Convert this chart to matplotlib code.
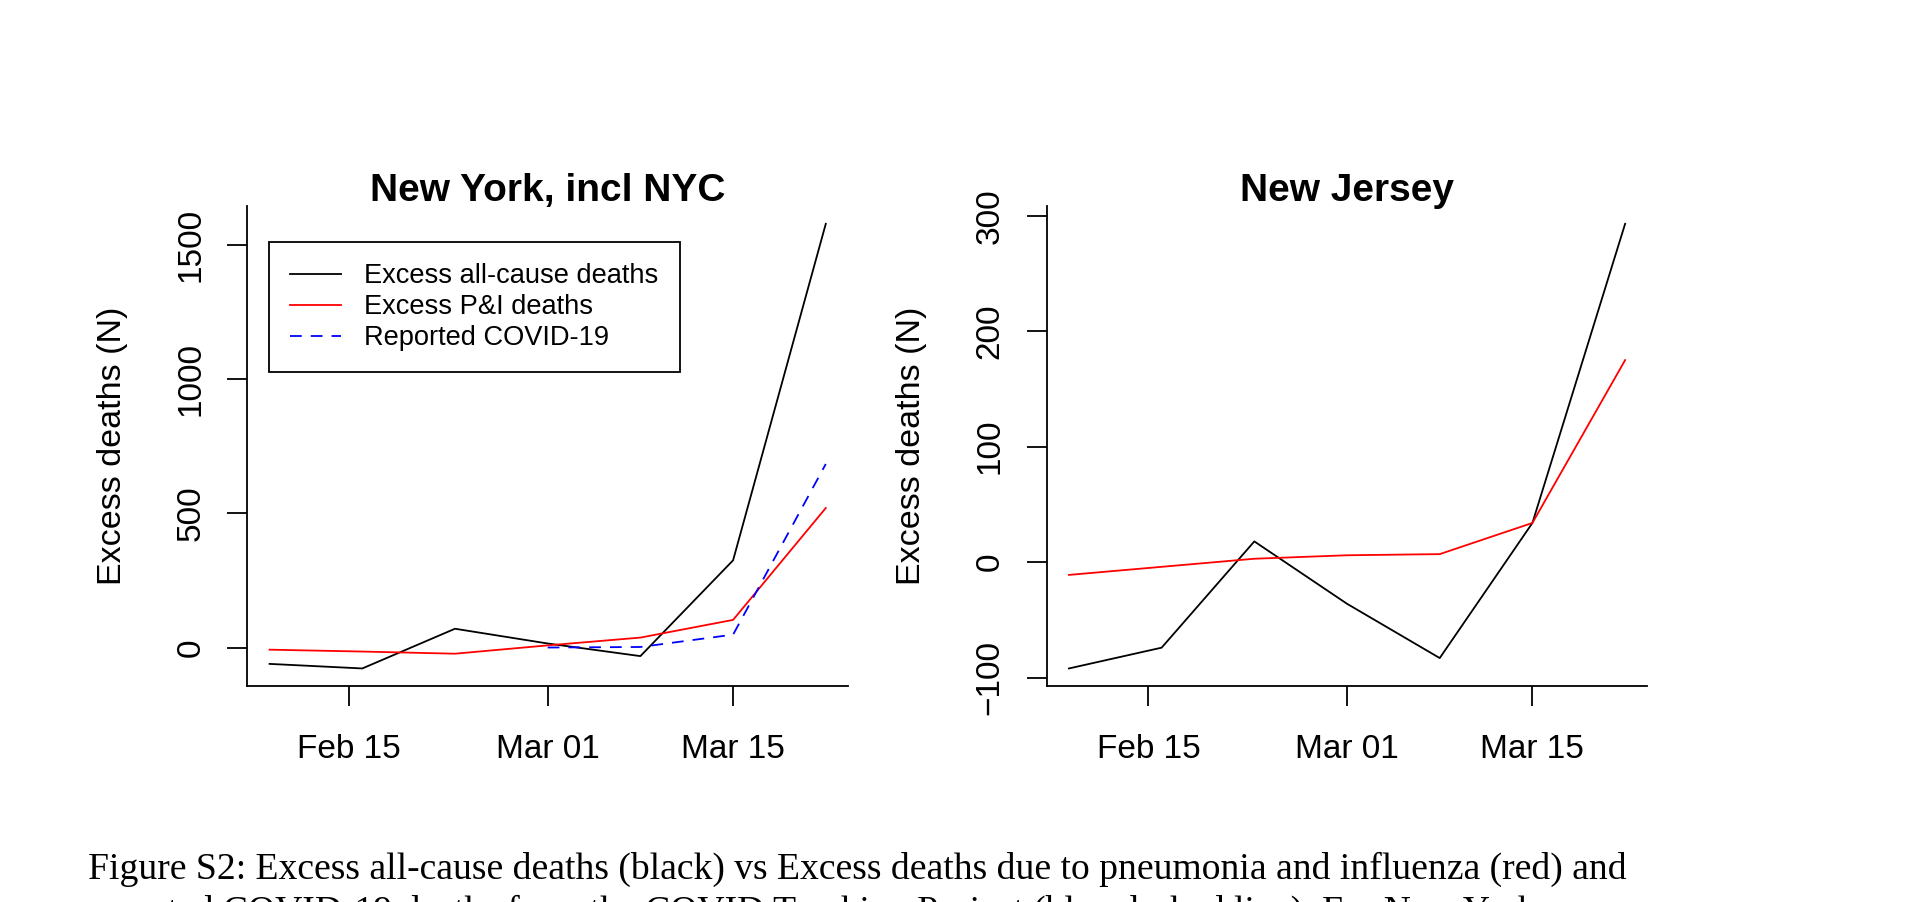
import datetime as dt

import matplotlib
matplotlib.use("Agg")
import matplotlib.pyplot as plt
import matplotlib.dates as mdates

plt.rcParams["font.family"] = ["Liberation Sans", "DejaVu Sans"]

# --------------------------------------
# Data (weekly points)
# --------------------------------------
weeks = [dt.date(2020, 2, 9), dt.date(2020, 2, 16), dt.date(2020, 2, 23),
         dt.date(2020, 3, 1), dt.date(2020, 3, 8), dt.date(2020, 3, 15),
         dt.date(2020, 3, 22)]

ny_allcause = [-61, -78, 70, 15, -32, 325, 1579]
ny_pi = [-8, -15, -23, 8, 37, 103, 520]
ny_covid_weeks = weeks[3:]
ny_covid = [0, 2, 48, 684]

nj_allcause = [-92, -74, 18, -36, -83, 34, 293]
nj_pi = [-11, -4, 3, 6, 7, 34, 175]

date_ticks = [dt.date(2020, 2, 15), dt.date(2020, 3, 1), dt.date(2020, 3, 15)]
ny_yticks = [0, 500, 1000, 1500]
nj_yticks = [-100, 0, 100, 200, 300]

legend_labels = ["Excess all-cause deaths", "Excess P&I deaths", "Reported COVID-19"]

caption_1 = ("Figure S2: Excess all-cause deaths (black) vs Excess deaths due to "
             "pneumonia and influenza (red) and")
caption_2 = ("reported COVID-19 deaths from the COVID Tracking Project "
             "(blue dashed line). For New York")

LW = 1.3
DASH = (0, (6.5, 5))


def style_axes(ax, title, yticks):
    ax.margins(x=0.04, y=0.04)
    for side in ("top", "right"):
        ax.spines[side].set_visible(False)
    for side in ("left", "bottom"):
        ax.spines[side].set_linewidth(1.3)

    ax.set_xticks(date_ticks)
    ax.xaxis.set_major_formatter(mdates.DateFormatter("%b %d"))
    ax.set_yticks(yticks)

    ax.tick_params(axis="both", length=14.5, width=1.3, labelsize=24)
    ax.tick_params(axis="x", pad=20)
    ax.tick_params(axis="y", pad=15)
    for lab in ax.get_yticklabels():
        lab.set_rotation(90)
        lab.set_va("center")

    ax.set_ylabel("Excess deaths (N)", fontsize=24.5)
    ax.yaxis.set_label_coords(-0.1987, 0.5)

    ax.text(0.5, 1.0104, title, transform=ax.transAxes,
            ha="center", va="baseline", fontsize=28, fontweight="bold")


fig = plt.figure(figsize=(19.1, 9.02), dpi=100)

ax_ny = fig.add_axes([0.1295, 0.2392, 0.3145, 0.5324])
ax_nj = fig.add_axes([0.5480, 0.2392, 0.3145, 0.5324])

# --- New York ---
ax_ny.plot(weeks, ny_allcause, color="black", lw=LW, label=legend_labels[0])
ax_ny.plot(weeks, ny_pi, color="#ff0000", lw=LW, label=legend_labels[1])
ax_ny.plot(ny_covid_weeks, ny_covid, color="#0000ff", lw=LW, linestyle=DASH,
           label=legend_labels[2])
style_axes(ax_ny, "New York, incl NYC", ny_yticks)

leg = ax_ny.legend(loc="upper left", bbox_to_anchor=(0.036, 0.925),
                   borderaxespad=0, fontsize=19.6, handlelength=1.87,
                   handletextpad=0.85, borderpad=0.78, labelspacing=0.18,
                   fancybox=False, framealpha=1, edgecolor="black")
leg.get_frame().set_linewidth(1.3)

# --- New Jersey ---
ax_nj.plot(weeks, nj_allcause, color="black", lw=LW)
ax_nj.plot(weeks, nj_pi, color="#ff0000", lw=LW)
style_axes(ax_nj, "New Jersey", nj_yticks)

# --- Caption (second line runs off the bottom edge) ---
fig.text(88 / 1910, 1 - 879 / 902, caption_1, family="Liberation Serif",
         fontsize=27.1, ha="left", va="baseline")
fig.text(88 / 1910, 1 - 922 / 902, caption_2, family="Liberation Serif",
         fontsize=27.1, ha="left", va="baseline")

fig.savefig("out.png", dpi=100)
